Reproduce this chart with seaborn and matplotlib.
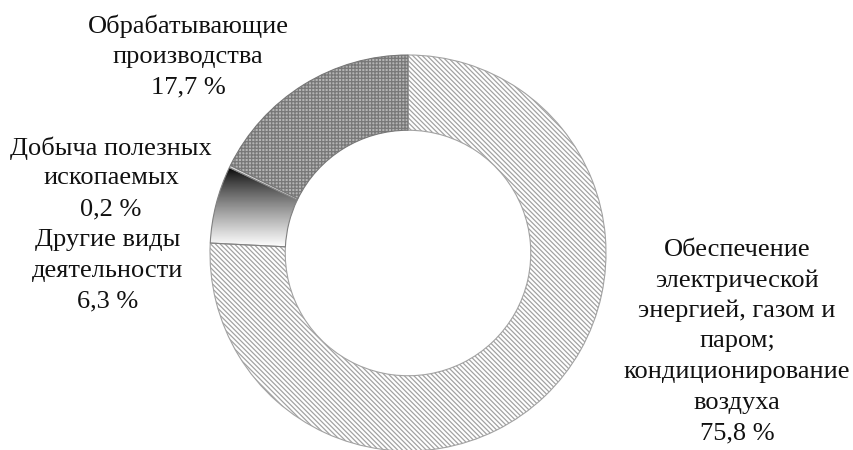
"""
Donut chart: structure by type of economic activity.
"""
import numpy as np
import matplotlib
matplotlib.use("Agg")
import matplotlib.pyplot as plt
import seaborn as sns

# === DATA ===
SECTORS = [
    "Обеспечение\nэлектрической\nэнергией, газом и\nпаром;\nкондиционирование\nвоздуха",
    "Другие виды\nдеятельности",
    "Добыча полезных\nископаемых",
    "Обрабатывающие\nпроизводства",
]
SHARES = [75.8, 6.3, 0.2, 17.7]
SHARE_LABELS = ["75,8 %", "6,3 %", "0,2 %", "17,7 %"]

# === STYLE ===
FACES = ["white", "none", "#dcdcdc", "#b4b4b4"]
HATCHES = ["\\" * 7, None, None, "+" * 5]
HATCH_COLORS = ["#a2a2a2", "#808080", "#808080", "#787878"]
# label centre x and first-line y, in pixels from top-left
LABEL_POS = [(737, 250), (108, 240), (111, 148), (188, 26)]
LINE_STEP = 30.5

W, H = 854, 450


def main():
    sns.set_theme(style="white")
    plt.rcParams["font.family"] = ["Liberation Serif", "DejaVu Serif"]
    plt.rcParams["hatch.linewidth"] = 0.9

    fig = plt.figure(figsize=(W / 100, H / 100), dpi=100)
    cx, cy, r = 408, 253, 198
    ax = fig.add_axes([(cx - r) / W, (H - cy - r) / H, 2 * r / W, 2 * r / H])
    ax.set_xlim(-1, 1)
    ax.set_ylim(-1, 1)
    ax.set_aspect("equal")
    ax.axis("off")

    wedges, _ = ax.pie(
        SHARES, startangle=90, counterclock=False, radius=1,
        wedgeprops=dict(width=0.38, linewidth=0.8),
    )
    for w, face, hatch, hc in zip(wedges, FACES, HATCHES, HATCH_COLORS):
        w.set_facecolor(face)
        w.set_edgecolor(hc)
        if hatch:
            w.set_hatch(hatch)

    # vertical black-to-white gradient inside the "other" wedge
    grad_wedge = wedges[1]
    bb = grad_wedge.get_path().get_extents()
    grad = np.linspace(1, 0, 256).reshape(-1, 1) ** 0.8
    im = ax.imshow(grad, cmap="gray", vmin=0, vmax=1, origin="lower",
                   extent=[bb.x0, bb.x1, bb.y0, bb.y1], aspect="auto", zorder=0.5)
    im.set_clip_path(grad_wedge)
    ax.set_xlim(-1, 1)
    ax.set_ylim(-1, 1)

    for name, share, (x, y) in zip(SECTORS, SHARE_LABELS, LABEL_POS):
        lines = name.split("\n") + [share]
        for i, line in enumerate(lines):
            fig.text(x / W, 1 - (y + i * LINE_STEP) / H, line,
                     ha="center", va="center", fontsize=19, color="#111111")

    fig.savefig("out.png", dpi=100)
    plt.close(fig)


if __name__ == "__main__":
    main()
